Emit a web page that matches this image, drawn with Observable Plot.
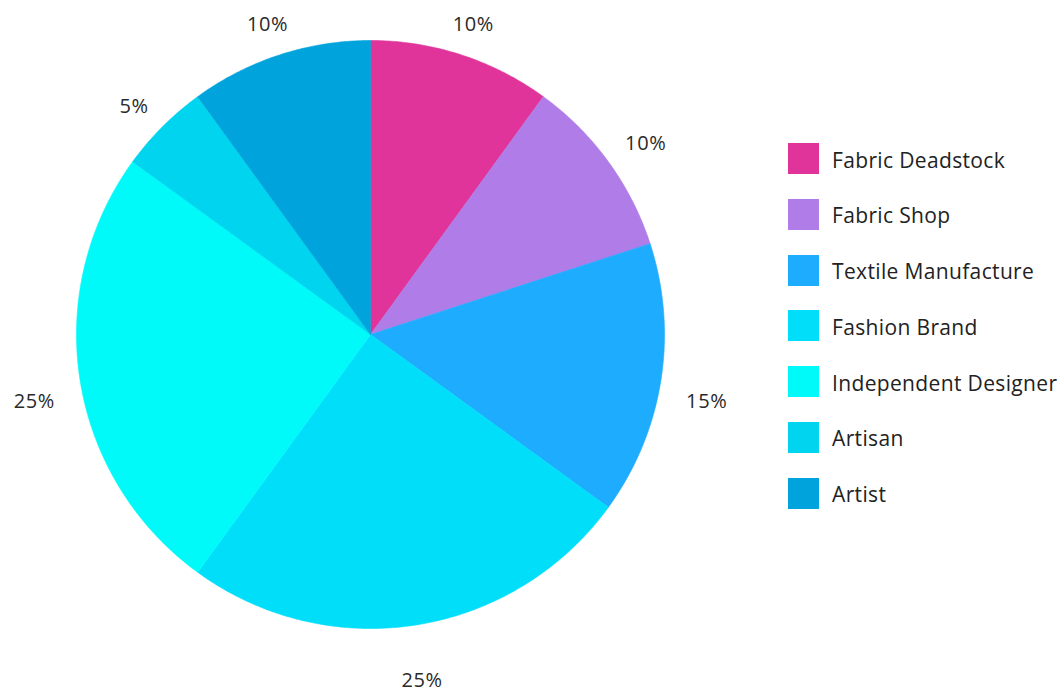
<!DOCTYPE html>
<html>
<head>
<meta charset="utf-8">
<script src="https://cdn.jsdelivr.net/npm/d3@7"></script>
<script src="https://cdn.jsdelivr.net/npm/@observablehq/plot@0.6"></script>
<style>
  html, body { margin: 0; padding: 0; background: #fff; }
  #wrap { position: relative; width: 1064px; height: 693px; }
  #legend { position: absolute; left: 788px; top: 143px; font-family: "Open Sans", sans-serif; font-size: 21px; letter-spacing: 0.35px; color: #222; }
  .row { display: flex; align-items: center; height: 31px; margin-bottom: 24.8px; white-space: nowrap; }
  .row span { position: relative; top: 1px; }
  .sw { width: 31px; height: 31px; margin-right: 13px; flex: none; }
</style>
</head>
<body>
<div id="wrap"><div id="legend"></div></div>
<script>
const categories = ["Fabric Deadstock", "Fabric Shop", "Textile Manufacture", "Fashion Brand", "Independent Designer", "Artisan", "Artist"];
const shares = [10, 10, 15, 25, 25, 5, 10];
const labels = ["10%", "10%", "15%", "25%", "25%", "5%", "10%"];
const colors = ["#e0349a", "#b07ce8", "#1eacff", "#00defa", "#00fafa", "#00d4ef", "#00a3dc"];

const cx = 370, cy = 334, R = 294;
const fontSize = 20;

const arcs = d3.pie().sort(null).value(d => d)(shares);

const slicePts = [];
arcs.forEach((a, i) => {
  const cat = categories[i];
  slicePts.push({cat, x: 0, y: 0});
  const n = Math.max(2, Math.ceil((a.endAngle - a.startAngle) / (Math.PI / 360)));
  for (let k = 0; k <= n; k++) {
    const t = a.startAngle + (a.endAngle - a.startAngle) * k / n;
    slicePts.push({cat, x: Math.sin(t), y: Math.cos(t)});
  }
  slicePts.push({cat, x: 0, y: 0});
});

// labels sit on an ellipse just outside the pie, a little below its centre
const gap = 25, shiftY = 13, stretchY = 7;
const labelData = arcs.map((a, i) => {
  const m = (a.startAngle + a.endAngle) / 2;
  const w = labels[i].length * 0.68 * fontSize;
  const h = 16;
  const half = Math.abs(Math.sin(m)) * w / 2 + Math.abs(Math.cos(m)) * h / 2;
  const rx = R + gap + half;
  const ry = rx + stretchY;
  return {text: labels[i], x: rx * Math.sin(m) / R, y: (ry * Math.cos(m) - shiftY) / R};
});

const chart = Plot.plot({
  width: 1064,
  height: 693,
  margin: 0,
  x: {domain: [-1, 1], range: [cx - R, cx + R], axis: null},
  y: {domain: [-1, 1], range: [cy + R, cy - R], axis: null},
  color: {domain: categories, range: colors},
  style: {background: "#fff", overflow: "visible"},
  marks: [
    Plot.line(slicePts, {x: "x", y: "y", z: "cat", fill: "cat", stroke: "cat", strokeWidth: 0.6, curve: "linear"}),
    Plot.text(labelData, {x: "x", y: "y", text: "text", fontSize: fontSize, fill: "#2a2a2a", textAnchor: "middle", lineAnchor: "middle", fontFamily: "Open Sans"})
  ]
});
chart.querySelectorAll("text").forEach(t => t.setAttribute("letter-spacing", "0.6"));
document.getElementById("wrap").prepend(chart);

const legend = document.getElementById("legend");
categories.forEach((c, i) => {
  const row = document.createElement("div");
  row.className = "row";
  const sw = document.createElement("div");
  sw.className = "sw";
  sw.style.background = colors[i];
  const t = document.createElement("span");
  t.textContent = c;
  row.appendChild(sw);
  row.appendChild(t);
  legend.appendChild(row);
});
</script>
</body>
</html>
